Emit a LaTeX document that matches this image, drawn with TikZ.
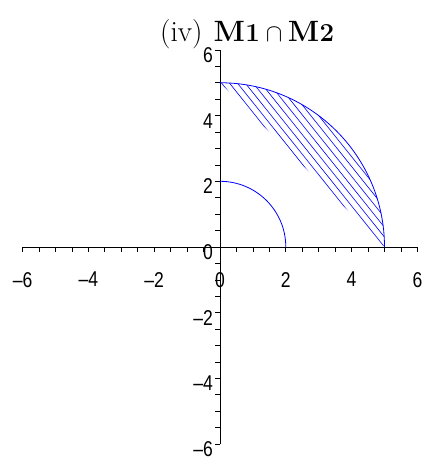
\documentclass[tikz,border=0pt]{standalone}
\usepackage{fontspec}
\newfontfamily\axfont[FakeStretch=0.82]{Liberation Sans}
\begin{document}
\begin{tikzpicture}[x=32.9bp,y=32.85bp,
  axis/.style={line width=0.8bp,black},
  tickmark/.style={line width=0.7bp,black},
  curve/.style={blue,line width=0.8bp},
  hatch/.style={blue,line width=0.6bp},
  lab/.style={font=\axfont\fontsize{21.5}{21.5}\selectfont,inner sep=0pt},
  xlab/.style={lab,anchor=north},
  ylab/.style={lab,anchor=north east}]
\useasboundingbox (-220bp,-213bp) rectangle (202bp,247bp);
% axes
\coordinate (O) at (0,0);
\coordinate (xL) at (-6,0);
\coordinate (xR) at (6,0);
\coordinate (yB) at (0,-6);
\coordinate (yT) at (0,6);
\draw[axis] (xL) -- (xR);
\draw[axis] (yB) -- (yT);
\foreach \i in {-12,...,12}{
  \draw[tickmark] (\i/2,0) -- ++(0,-5bp);
  \draw[tickmark] (0,\i/2) -- ++(-5bp,0);
}
% labels
\foreach \v/\t [count=\k] in {-6/–6,-4/–4,-2/–2,0/0,2/2,4/4,6/6}{
  \node[xlab] (xlab\k) at ([yshift=-25bp]\v,0) {\t};
  \node[ylab] (ylab\k) at ([xshift=-7bp,yshift=2.5bp]0,\v) {\t};
}
% title
\node[anchor=base west,inner sep=0pt] (title) at (-60bp,205bp)
  {\fontsize{29.5}{30}\selectfont (iv)\kern11bp\textbf{M}\kern0.3bp\textbf{\fontsize{26}{26}\selectfont 1}\kern6bp$\cap$\kern5.5bp\textbf{M}\kern0.3bp\textbf{\fontsize{26}{26}\selectfont 2}};
% curves
\coordinate (A2) at (0,2);
\coordinate (A5) at (0,5);
\draw[curve] (A2) arc[start angle=90,end angle=0,radius=2];
\draw[curve] (A5) arc[start angle=90,end angle=0,radius=5];
% hatching
\begin{scope}
  \clip (A5) arc[start angle=90,end angle=0,radius=5] -- cycle;
  \foreach \k in {-5,...,7}{
    \pgfmathsetmacro{\c}{5+0.24*\k}
    \draw[hatch] (\c-5,6.25) -- (\c+5,-6.25);
  }
\end{scope}
\end{tikzpicture}
\end{document}
